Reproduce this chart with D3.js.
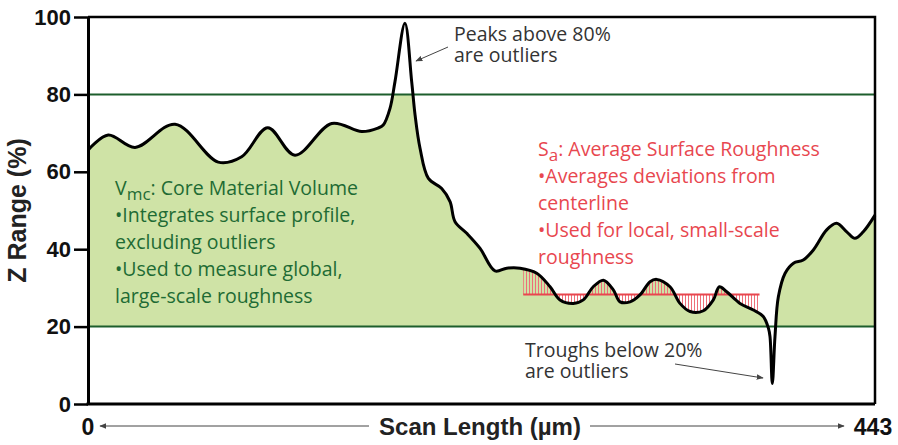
<!DOCTYPE html>
<html>
<head>
<meta charset="utf-8">
<script src="https://cdn.jsdelivr.net/npm/d3@7"></script>
<style>
  body { margin: 0; background: #fff; }
  svg { display: block; }
</style>
</head>
<body>
<div id="chart"></div>
<script>
// surface profile (scan position in µm, Z in %)
const scanX = [0, 11.4, 26.5, 49.0, 73.3, 86.5, 101.2, 116.5, 137.2, 154.1, 163.2, 166.2,
  170.0, 172.8, 178.4, 182.2, 184.1, 186.9, 191.6, 199.1, 203.8, 206.6, 213.2, 220.7,
  229.1, 235.7, 243.2, 252.6, 260.1, 265.7, 273.2, 278.8, 284.4, 290.1, 295.7, 299.5,
  305.1, 310.7, 316.4, 320.1, 327.6, 333.2, 338.9, 346.4, 352.0, 355.4, 359.5, 367.0,
  374.5, 380.1, 383.0, 383.9, 385.2, 386.7, 388.6, 392.4, 397.1, 402.6, 408.3, 415.8,
  421.4, 427.1, 431.7, 436.4, 443];
const zRange = [65.6, 69.5, 66.3, 72.3, 62.5, 63.9, 71.4, 64.3, 72.5, 70.4, 71.3, 72.1,
  76.4, 83.3, 98.4, 83.3, 74.7, 66.1, 58.3, 55.7, 52.3, 47.1, 44.1, 40.2,
  34.4, 35.1, 35.1, 33.8, 30.3, 26.9, 26.0, 26.9, 30.3, 32.0, 29.5, 26.4,
  26.4, 28.2, 31.6, 32.2, 30.3, 26.0, 23.9, 24.1, 26.9, 30.3, 29.0, 26.0,
  24.3, 22.6, 19.6, 17.4, 5.3, 17.4, 27.7, 33.8, 36.4, 37.2, 39.8, 45.0,
  46.7, 44.5, 42.8, 44.5, 48.8];

const yTicks = [0, 20, 40, 60, 80, 100];
const outlierLimits = [20, 80];
const saCenterline = 28.3;
const saSpan = [245, 378];
const xEnds = [0, 443];

const vmcLines = ["•Integrates surface profile,", "excluding outliers",
  "•Used to measure global,", "large-scale roughness"];
const saLines = ["•Averages deviations from", "centerline",
  "•Used for local, small-scale", "roughness"];

const width = 898, height = 445;
const margin = {top: 17, right: 23, bottom: 41, left: 88};
const textFont = "'Open Sans', 'Noto Sans', sans-serif";
const axisFont = "'Liberation Sans', Arial, sans-serif";

const profile = scanX.map((x, i) => ({x: x, z: zRange[i]}));

const svg = d3.select("#chart").append("svg")
  .attr("width", width)
  .attr("height", height);

const x = d3.scaleLinear().domain(xEnds).range([margin.left, width - margin.right]);
const y = d3.scaleLinear().domain([0, 100]).range([height - margin.bottom, margin.top]);

const defs = svg.append("defs");

// band between the two outlier limits
defs.append("clipPath").attr("id", "coreClip")
  .append("rect")
  .attr("x", x(0)).attr("width", x(443) - x(0))
  .attr("y", y(outlierLimits[1])).attr("height", y(outlierLimits[0]) - y(outlierLimits[1]));

defs.append("clipPath").attr("id", "saClip")
  .append("rect")
  .attr("x", x(saSpan[0])).attr("width", x(saSpan[1]) - x(saSpan[0]))
  .attr("y", 0).attr("height", height);

const hatch = defs.append("pattern")
  .attr("id", "hatch")
  .attr("patternUnits", "userSpaceOnUse")
  .attr("width", 3).attr("height", 10);
hatch.append("line")
  .attr("x1", 1.5).attr("x2", 1.5).attr("y1", 0).attr("y2", 10)
  .attr("stroke", "#ee6f78").attr("stroke-width", 1);

defs.append("marker")
  .attr("id", "arrow")
  .attr("viewBox", "0 0 10 10")
  .attr("refX", 9).attr("refY", 5)
  .attr("markerWidth", 7).attr("markerHeight", 7)
  .attr("markerUnits", "userSpaceOnUse")
  .attr("orient", "auto")
  .append("path")
  .attr("d", "M0,1L10,5L0,9Z")
  .attr("fill", "#444");

const curve = d3.curveCatmullRom.alpha(0.5);

// green core volume fill
svg.append("path")
  .datum(profile)
  .attr("clip-path", "url(#coreClip)")
  .attr("fill", "#cfe3a6")
  .attr("d", d3.area().curve(curve)
    .x(d => x(d.x))
    .y0(y(outlierLimits[0]))
    .y1(d => y(d.z)));

// Sa hatching between profile and centerline
svg.append("path")
  .datum(profile)
  .attr("clip-path", "url(#saClip)")
  .attr("fill", "url(#hatch)")
  .attr("d", d3.area().curve(curve)
    .x(d => x(d.x))
    .y0(y(saCenterline))
    .y1(d => y(d.z)));

svg.append("line")
  .attr("x1", x(saSpan[0])).attr("x2", x(saSpan[1]))
  .attr("y1", y(saCenterline)).attr("y2", y(saCenterline))
  .attr("stroke", "#e8474f").attr("stroke-width", 2);

// outlier limit lines
svg.selectAll(".limit")
  .data(outlierLimits)
  .enter().append("line")
  .attr("class", "limit")
  .attr("x1", x(0)).attr("x2", x(443))
  .attr("y1", d => y(d)).attr("y2", d => y(d))
  .attr("stroke", "#1d5e2c").attr("stroke-width", 2);

// profile line
svg.append("path")
  .datum(profile)
  .attr("fill", "none")
  .attr("stroke", "#000")
  .attr("stroke-width", 3)
  .attr("stroke-linejoin", "round")
  .attr("d", d3.line().curve(curve).x(d => x(d.x)).y(d => y(d.z)));

// frame top/right
svg.append("path")
  .attr("fill", "none")
  .attr("stroke", "#000")
  .attr("stroke-width", 2.5)
  .attr("d", `M${x(0)},${y(100)}H${x(443)}V${y(0)}`);

// y axis
const yAxis = svg.append("g")
  .attr("transform", `translate(${x(0)},0)`)
  .call(d3.axisLeft(y).tickValues(yTicks).tickSize(14).tickPadding(3).tickSizeOuter(0));
yAxis.select(".domain").attr("stroke-width", 3);
yAxis.selectAll(".tick line").attr("stroke-width", 2.5);
yAxis.selectAll(".tick text")
  .attr("font-family", axisFont)
  .attr("font-weight", "bold")
  .attr("font-size", 22)
  .attr("fill", "#111");

// bottom axis line
svg.append("line")
  .attr("x1", x(0) - 1.5).attr("x2", x(443))
  .attr("y1", y(0)).attr("y2", y(0))
  .attr("stroke", "#000").attr("stroke-width", 3);

svg.append("text")
  .attr("transform", `translate(26,${(y(0) + y(100)) / 2}) rotate(-90)`)
  .attr("text-anchor", "middle")
  .attr("font-family", axisFont)
  .attr("font-weight", "bold")
  .attr("font-size", 25)
  .attr("fill", "#222")
  .text("Z Range (%)");

// x axis labels and arrows
svg.selectAll(".xend")
  .data(xEnds)
  .enter().append("text")
  .attr("class", "xend")
  .attr("x", d => x(d) - (d ? 2 : 0))
  .attr("y", 435)
  .attr("text-anchor", "middle")
  .attr("font-family", axisFont)
  .attr("font-weight", "bold")
  .attr("font-size", 23)
  .attr("fill", "#111")
  .text(d => d);

svg.append("text")
  .attr("x", 480).attr("y", 435)
  .attr("text-anchor", "middle")
  .attr("font-family", axisFont)
  .attr("font-weight", "bold")
  .attr("font-size", 24)
  .attr("fill", "#222")
  .text("Scan Length (µm)");

svg.append("line")
  .attr("x1", 369).attr("x2", x(0) + 12)
  .attr("y1", 426).attr("y2", 426)
  .attr("stroke", "#444").attr("stroke-width", 1)
  .attr("marker-end", "url(#arrow)");
svg.append("line")
  .attr("x1", 590).attr("x2", x(443) - 31)
  .attr("y1", 426).attr("y2", 426)
  .attr("stroke", "#444").attr("stroke-width", 1)
  .attr("marker-end", "url(#arrow)");

// outlier notes
function note(lines, tx, ty, from, to) {
  lines.forEach((l, i) => {
    svg.append("text")
      .attr("x", tx).attr("y", ty + i * 21)
      .attr("font-family", textFont)
      .attr("font-size", 19.5)
      .attr("fill", "#333")
      .text(l);
  });
  svg.append("line")
    .attr("x1", from[0]).attr("y1", from[1])
    .attr("x2", to[0]).attr("y2", to[1])
    .attr("stroke", "#444").attr("stroke-width", 1)
    .attr("marker-end", "url(#arrow)");
}
note(["Peaks above 80%", "are outliers"], 454, 41, [448, 47], [416, 61]);
note(["Troughs below 20%", "are outliers"], 525, 357, [675, 364], [763, 378]);

// Vmc / Sa text blocks
function block(title, sub, rest, lines, tx, ty, color) {
  const t = svg.append("text")
    .attr("x", tx).attr("y", ty)
    .attr("font-family", textFont)
    .attr("font-size", 19.5)
    .attr("fill", color);
  t.append("tspan").text(title);
  t.append("tspan").attr("dy", 5).attr("font-size", 17).text(sub);
  t.append("tspan").attr("dy", -5).text(rest);
  lines.forEach((l, i) => {
    svg.append("text")
      .attr("x", tx).attr("y", ty + (i + 1) * 27)
      .attr("font-family", textFont)
      .attr("font-size", 19.5)
      .attr("fill", color)
      .text(l);
  });
}
block("V", "mc", ": Core Material Volume", vmcLines, 115, 195, "#1e6b34");
block("S", "a", ": Average Surface Roughness", saLines, 538, 156, "#e8474f");
</script>
</body>
</html>
